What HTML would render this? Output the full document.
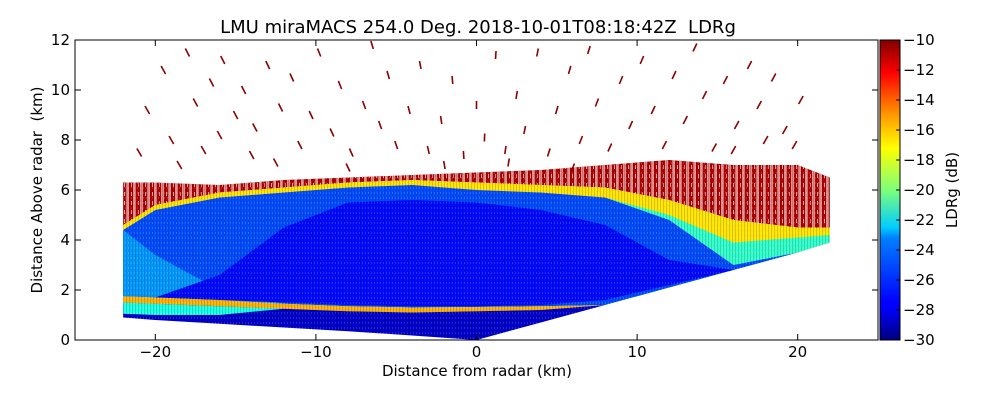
<!DOCTYPE html>
<html><head><meta charset="utf-8"><style>
html,body{margin:0;padding:0;background:#fff;}
svg{display:block;font-family:"DejaVu Sans","Liberation Sans",sans-serif;}
</style></head><body>
<svg id="chart" width="1000" height="400" viewBox="0 0 1000 400">
<defs>
<pattern id="tex" width="3" height="5" patternUnits="userSpaceOnUse"><rect x="0" y="0" width="1" height="5" fill="#000" opacity="0.15"/><rect x="2" y="2" width="1" height="2" fill="#fff" opacity="0.15"/></pattern>
<pattern id="streaks" width="7" height="9" patternUnits="userSpaceOnUse"><rect x="0" y="0" width="3" height="9" fill="#fff" opacity="0.55"/><rect x="5" y="3" width="1" height="4" fill="#fff" opacity="0.6"/></pattern>
<linearGradient id="jetgrad" x1="0" y1="1" x2="0" y2="0">
<stop offset="0" stop-color="#000080"/><stop offset="0.11" stop-color="#0000ff"/><stop offset="0.125" stop-color="#0000ff"/><stop offset="0.34" stop-color="#0080ff"/><stop offset="0.375" stop-color="#00ccff"/><stop offset="0.5" stop-color="#7dff7a"/><stop offset="0.64" stop-color="#ffff00"/><stop offset="0.75" stop-color="#ff9900"/><stop offset="0.89" stop-color="#ff0000"/><stop offset="1" stop-color="#800000"/>
</linearGradient>
<clipPath id="plotclip"><rect x="75" y="40" width="803" height="300"/></clipPath>
</defs>
<text x="478" y="33" font-size="18" text-anchor="middle" xml:space="preserve">LMU miraMACS 254.0 Deg. 2018-10-01T08:18:42Z  LDRg</text>
<g id="layers" clip-path="url(#plotclip)"></g>
<g id="clutter" clip-path="url(#plotclip)"></g>
<rect x="75" y="40" width="803" height="300" fill="none" stroke="#000" stroke-width="1"/>
<g id="axes"></g>
<text x="477" y="376" font-size="15" text-anchor="middle">Distance from radar (km)</text>
<text x="42" y="190" font-size="15" text-anchor="middle" xml:space="preserve" transform="rotate(-90 42 190)">Distance Above radar  (km)</text>
<rect x="880" y="40" width="20" height="300" fill="url(#jetgrad)" stroke="#000" stroke-width="1"/>
<g id="cbticks"></g>
<text x="957" y="190" font-size="15" text-anchor="middle" transform="rotate(-90 957 190)">LDRg (dB)</text>
</svg>
<script>
const xKm      = [-22, -20, -16, -12, -8, -4, 0, 4, 8, 12, 16, 20, 22];
const baseH    = [0.9, 0.8, 0.65, 0.5, 0.35, 0.18, 0.0, 0.7, 1.4, 2.1, 2.8, 3.5, 3.9];
const meltLo   = [1.5, 1.45, 1.35, 1.25, 1.15, 1.1, 1.15, 1.2, 1.4, 2.1, 2.8, 3.5, 3.9];
const meltHi   = [1.75, 1.7, 1.6, 1.45, 1.35, 1.3, 1.32, 1.35, 1.4, 2.1, 2.8, 3.5, 3.9];
const rainCyanHi = [1.5, 1.45, 1.35, 1.25, 1.15, 1.1, 1.15, 1.2, 1.4, 2.1, 2.8, 3.5, 3.9];
const rainCyanLo = [1.05, 1.0, 1.0, 1.25, 1.15, 1.1, 1.15, 1.2, 1.4, 2.1, 2.8, 3.5, 3.9];
const blueTop  = [4.4, 5.2, 5.7, 5.9, 6.1, 6.2, 6.0, 5.9, 5.7, 4.8, 3.0, 3.5, 3.9];
const rightCyanHi = [4.4, 5.2, 5.7, 5.9, 6.1, 6.2, 6.0, 5.9, 5.7, 5.0, 3.9, 4.1, 4.2];
const edgeTop  = [4.6, 5.4, 5.9, 6.1, 6.3, 6.4, 6.3, 6.2, 6.1, 5.6, 4.8, 4.5, 4.5];
const echoTop  = [6.3, 6.3, 6.2, 6.4, 6.5, 6.6, 6.7, 6.8, 7.0, 7.2, 7.0, 7.0, 6.5];
const coreLo   = [1.75, 1.7, 1.6, 1.5, 1.4, 1.35, 1.35, 1.4, 1.6, 2.2, 2.8, 3.5, 3.9];
const coreHi   = [1.75, 1.7, 2.6, 4.5, 5.5, 5.6, 5.5, 5.2, 4.6, 3.2, 2.8, 3.5, 3.9];
const cyanHi   = [4.4, 3.4, 2.0, 1.45, 1.35, 1.3, 1.32, 1.35, 1.4, 2.1, 2.8, 3.5, 3.9];
const ldrBelowMelt = -28.5;
const ldrRainCyan = -22;
const ldrMelt  = -16;
const ldrIce   = -26;
const ldrCore  = -27.3;
const ldrCyan  = -24.5;
const ldrRightCyan = -21.5;
const ldrEdge  = -17;
const ldrTop   = -11;
const clutterX = [-19.5,-18,-17.5,-16.5,-15.8,-15,-14.5,-13.8,-13,-12.2,-11.5,-11,-10.3,-9.8,-9,-8.5,-7.8,-7,-6.5,-6,-5.5,-5,-4.2,-3.5,-3,-2.2,-1.5,-0.8,0,0.5,1.2,1.8,2.5,3,3.8,4.5,5,5.8,6.5,7,7.5,8.3,9,9.6,10.3,11,11.7,12.3,13,13.6,14.2,14.8,15.5,16.2,17,17.6,18.5,19.2,-20.5,-19,-17,-18.5,-16,-14,-12.5,-21,16,18,19.8,20.2,-8,-2,2,6];
const clutterH = [10.8,11.5,9.5,10.3,11.2,9.0,10.0,8.5,11,9.3,10.5,7.8,9,11.5,8.3,10.2,7.5,9.4,11.8,8.6,10.6,7.8,9.2,11,7.6,8.8,10.4,7.4,9.4,8.1,11.4,7.6,9.8,8.4,11.5,7.5,9.2,10.8,8.0,11.6,9.5,7.7,10.4,8.6,11.2,9.2,7.8,10.6,8.8,11.7,9.8,7.7,10.4,8.6,11,9.4,10.5,8.4,9.2,8,7.6,7.0,8.2,7.4,7.1,7.5,7.6,8.0,7.8,9.6,6.9,7.0,7.1,6.9];
const xTicks = [-20, -10, 0, 10, 20];
const yTicks = [0, 2, 4, 6, 8, 10, 12];
const cbTicks = [-10,-12,-14,-16,-18,-20,-22,-24,-26,-28,-30];

const NS = "http://www.w3.org/2000/svg";
const sx = v => 75 + (v + 25) * 16.06;
const sy = v => 340 - v * 25;
const cy = v => 40 + (-10 - v) * 15;
function jet(v){
  const t = Math.max(0, Math.min(1, (v + 30) / 20));
  const c = f => Math.round(255 * Math.max(0, Math.min(1, 1.5 - Math.abs(4 * t - f))));
  return `rgb(${c(3)},${c(2)},${c(1)})`;
}
const layersG = document.getElementById('layers');
function poly(lo, hi, fill, name){
  const pts = [];
  for (let i = 0; i < xKm.length; i++) pts.push(sx(xKm[i]) + ',' + sy(hi[i]));
  for (let i = xKm.length - 1; i >= 0; i--) pts.push(sx(xKm[i]) + ',' + sy(lo[i]));
  const p = document.createElementNS(NS, 'polygon');
  p.setAttribute('points', pts.join(' '));
  p.setAttribute('fill', fill);
  
  
  layersG.appendChild(p);
  return p;
}
poly(edgeTop, echoTop, jet(ldrTop), 'cloud-top-layer');
poly(edgeTop, echoTop, 'url(#streaks)', 'cloud-top-gaps');
poly(blueTop, edgeTop, jet(ldrEdge), 'cloud-edge-layer');
poly(blueTop, rightCyanHi, jet(ldrRightCyan), 'right-cyan-layer');
poly(meltHi, blueTop, jet(ldrIce), 'ice-layer');
poly(meltHi, cyanHi, jet(ldrCyan), 'far-left-layer');
poly(coreLo, coreHi, jet(ldrCore), 'ice-core-layer');
poly(meltLo, meltHi, jet(ldrMelt), 'melting-layer');
poly(baseH, meltLo, jet(ldrBelowMelt), 'rain-layer');
poly(rainCyanLo, rainCyanHi, jet(ldrRainCyan), 'rain-left-layer');
poly(baseH, echoTop, 'url(#tex)', 'echo-texture');

const clutterG = document.getElementById('clutter');
for (let i = 0; i < clutterX.length; i++){
  const x = clutterX[i], h = clutterH[i];
  const r = Math.hypot(x, h);
  const dxp = (x / r) * 2.5, dyp = 4;
  const l = document.createElementNS(NS, 'line');
  l.setAttribute('x1', sx(x) - dxp); l.setAttribute('y1', sy(h) + dyp);
  l.setAttribute('x2', sx(x) + dxp); l.setAttribute('y2', sy(h) - dyp);
  l.setAttribute('stroke', '#8b0000'); l.setAttribute('stroke-width', '1.6');
  
  
  clutterG.appendChild(l);
}

const axesG = document.getElementById('axes');
function line(x1,y1,x2,y2,g,name){
  const l = document.createElementNS(NS,'line');
  l.setAttribute('x1',x1);l.setAttribute('y1',y1);l.setAttribute('x2',x2);l.setAttribute('y2',y2);
  l.setAttribute('stroke','#000');l.setAttribute('stroke-width','1');
  
  
  g.appendChild(l);
}
function text(x,y,s,anchor,g,name){
  const t = document.createElementNS(NS,'text');
  t.setAttribute('x',x);t.setAttribute('y',y);t.setAttribute('font-size','15');t.setAttribute('text-anchor',anchor);
  t.textContent = s;
  
  
  g.appendChild(t);
}
const minus = v => (v < 0 ? '\u2212' + Math.abs(v) : String(v));
xTicks.forEach(v => {
  line(sx(v),340,sx(v),334,axesG,'x-tick');
  line(sx(v),40,sx(v),46,axesG,'x-tick-top');
  text(sx(v),357,minus(v),'middle',axesG,'x-tick-label');
});
yTicks.forEach(v => {
  line(75,sy(v),81,sy(v),axesG,'y-tick');
  line(878,sy(v),872,sy(v),axesG,'y-tick-right');
  text(70,sy(v)+5,String(v),'end',axesG,'y-tick-label');
});
const cbG = document.getElementById('cbticks');
cbTicks.forEach(v => {
  line(896,cy(v),900,cy(v),cbG,'colorbar-tick');
  text(903,cy(v)+5,minus(v),'start',cbG,'colorbar-tick-label');
});
</script>
</body></html>
